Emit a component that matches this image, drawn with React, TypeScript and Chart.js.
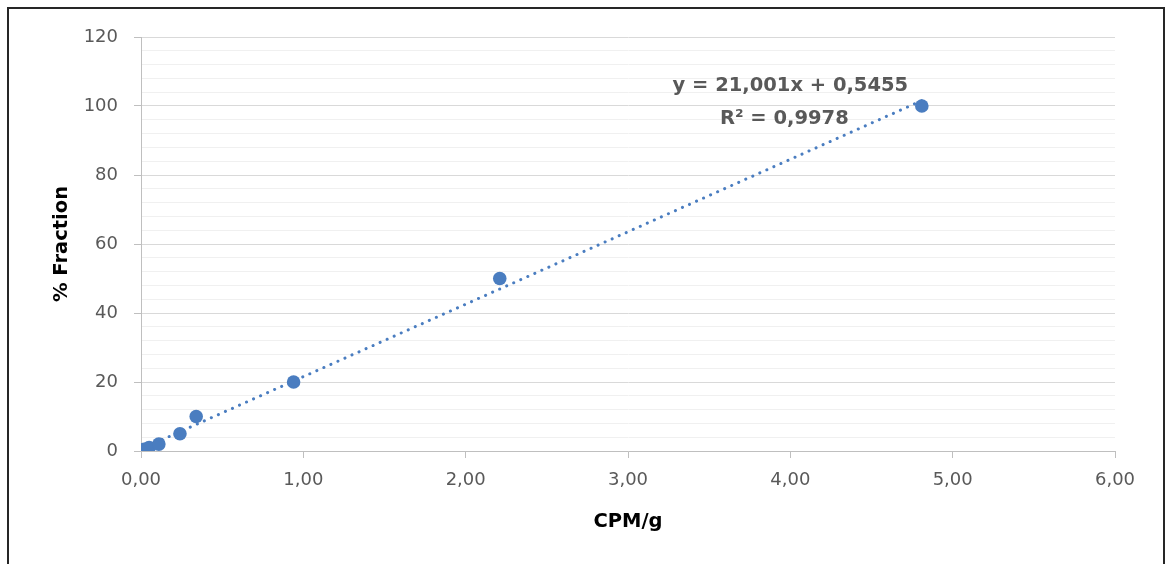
import React, { useEffect, useRef } from "react";
import { Chart, registerables } from "chart.js";

Chart.register(...registerables);

// Data
const cpmPerG = [0, 0.02, 0.05, 0.11, 0.24, 0.34, 0.94, 2.21, 4.81];
const fractionPct = [0, 0.5, 1, 2, 5, 10, 20, 50, 100];

// Trendline as displayed in the chart
const slope = 21.001;
const intercept = 0.5455;
const trendLabelLines = ["y = 21,001x + 0,5455", "R² = 0,9978"];

const xTitle = "CPM/g";
const yTitle = "% Fraction";

const FONT = "'DejaVu Sans', sans-serif";
const BLUE = "#4A7DC0";

export default function App() {
  const canvasRef = useRef<HTMLCanvasElement | null>(null);

  useEffect(() => {
    const canvas = canvasRef.current;
    if (!canvas) return;

    const xMinData = Math.min(...cpmPerG);
    const xMaxData = Math.max(...cpmPerG);
    const trend = [
      { x: xMinData, y: slope * xMinData + intercept },
      { x: xMaxData, y: slope * xMaxData + intercept },
    ];

    const annotationPlugin = {
      id: "trendLabel",
      afterDatasetsDraw(chart: any) {
        const { ctx, scales } = chart;
        const xs = scales.x;
        const ys = scales.y;
        ctx.save();
        ctx.font = `bold 19.5px ${FONT}`;
        ctx.fillStyle = "#595959";
        ctx.textAlign = "center";
        ctx.textBaseline = "middle";
        const cx = xs.getPixelForValue(4.0);
        ctx.fillText(trendLabelLines[0], cx, ys.getPixelForValue(105.8));
        ctx.fillText(trendLabelLines[1], cx - 6, ys.getPixelForValue(96.2));
        ctx.restore();
      },
    };

    const chart = new Chart(canvas, {
      type: "scatter",
      data: {
        datasets: [
          {
            label: "data",
            data: cpmPerG.map((x, i) => ({ x, y: fractionPct[i] })),
            backgroundColor: BLUE,
            borderColor: BLUE,
            pointRadius: 6.8,
            pointBorderWidth: 0,
            showLine: false,
            order: 1,
          },
          {
            label: "trend",
            data: trend,
            showLine: true,
            borderColor: BLUE,
            borderWidth: 3,
            borderDash: [0.1, 7.6],
            borderCapStyle: "round",
            pointRadius: 0,
            order: 2,
          },
        ],
      },
      plugins: [annotationPlugin],
      options: {
        animation: false,
        responsive: false,
        maintainAspectRatio: false,
        layout: { padding: { left: 0, right: 50, top: 37, bottom: 0 } },
        plugins: {
          legend: { display: false },
          tooltip: { enabled: false },
        },
        scales: {
          x: {
            type: "linear",
            min: 0,
            max: 6,
            afterFit(scale: any) {
              scale.height = 113;
            },
            ticks: {
              stepSize: 1,
              padding: 12,
              color: "#595959",
              font: { family: FONT, size: 18 },
              callback: (v: any) => Number(v).toFixed(2).replace(".", ","),
            },
            grid: {
              drawOnChartArea: false,
              drawTicks: true,
              tickLength: 7,
              tickColor: "#bfbfbf",
            },
            border: { color: "#bfbfbf", width: 1 },
            title: {
              display: true,
              text: xTitle,
              color: "#000000",
              font: { family: FONT, size: 19.5, weight: "bold" },
              padding: { top: 0, bottom: 30 },
            },
          },
          y: {
            type: "linear",
            min: 0,
            max: 120,
            afterFit(scale: any) {
              scale.width = 141;
            },
            ticks: {
              stepSize: 4,
              autoSkip: false,
              padding: 16,
              color: "#595959",
              font: { family: FONT, size: 18 },
              callback: (v: any) => (Number(v) % 20 === 0 ? String(v) : ""),
            },
            grid: {
              drawTicks: true,
              tickLength: 7,
              color: (c: any) =>
                c.tick && c.tick.value % 20 === 0 ? "#d9d9d9" : "#f0f0f0",
              tickColor: (c: any) =>
                c.tick && c.tick.value % 20 === 0 ? "#bfbfbf" : "rgba(0,0,0,0)",
              lineWidth: 1,
            },
            border: { color: "#bfbfbf", width: 1 },
            title: {
              display: true,
              text: yTitle,
              color: "#000000",
              font: { family: FONT, size: 19.5, weight: "bold" },
              padding: { top: 50, bottom: 0 },
            },
          },
        },
      },
    });

    return () => chart.destroy();
  }, []);

  return (
    <div
      style={{
        position: "fixed",
        left: 0,
        top: 0,
        width: 1165,
        height: 564,
        background: "#ffffff",
        overflow: "hidden",
      }}
    >
      <canvas
        ref={canvasRef}
        width={1165}
        height={564}
        style={{ position: "absolute", left: 0, top: 0, width: 1165, height: 564 }}
      />
      <div
        style={{
          position: "absolute",
          left: 7,
          top: 7,
          width: 1154,
          height: 620,
          border: "2px solid #262626",
          pointerEvents: "none",
        }}
      />
    </div>
  );
}
